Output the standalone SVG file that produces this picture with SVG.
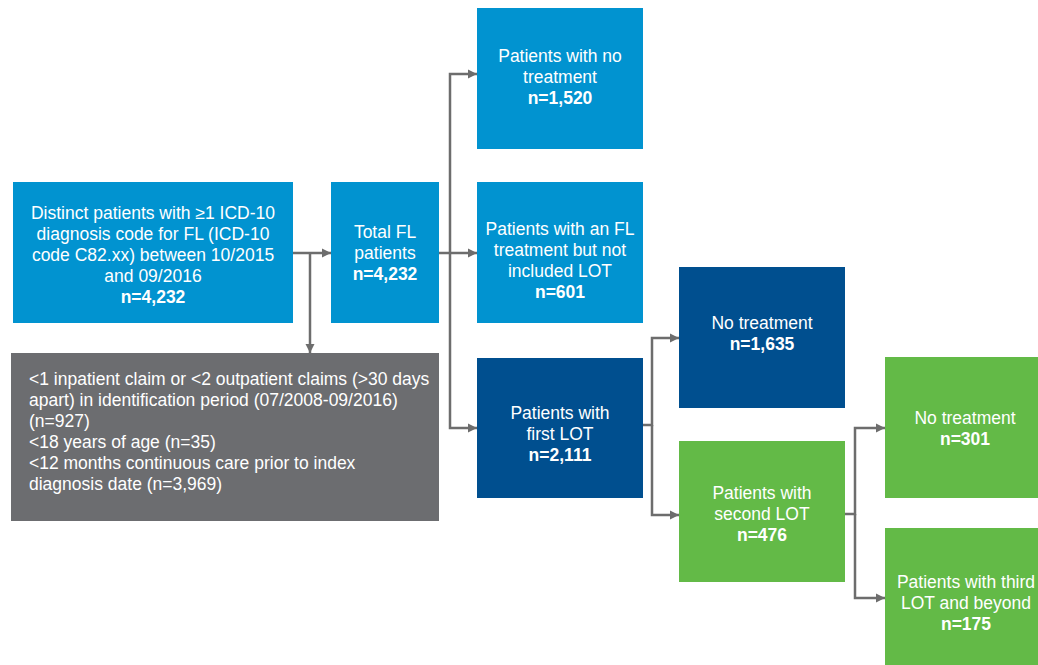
<svg xmlns="http://www.w3.org/2000/svg" width="1038" height="665" viewBox="0 0 1038 665">
<style>
.lb{fill:#0193D0}
.db{fill:#004F8F}
.gr{fill:#63BA47}
.gy{fill:#6C6D70}
text{font-family:"Liberation Sans",Arial,sans-serif;font-size:17.5px;fill:#ffffff}
.c{text-anchor:middle}
.b{font-weight:bold}
.conn path{fill:none;stroke:#6D6D6D;stroke-width:2.5;marker-end:url(#ah)}
</style>
<defs>
<marker id="ah" markerUnits="userSpaceOnUse" markerWidth="10" markerHeight="10" refX="9" refY="5" orient="auto">
<path d="M0,0.5 L9,5 L0,9.5 z" fill="#6D6D6D"/>
</marker>
</defs>
<rect width="1038" height="665" fill="#ffffff"/>
<g class="conn" id="connectors">
<path d="M293,253 H331"/>
<path d="M310,253 V353"/>
<path d="M439,253 H477"/>
<path d="M450,253 V74 H477"/>
<path d="M450,253 V428 H477"/>
<path d="M643,425 H652 V338 H679"/>
<path d="M652,425 V515 H679"/>
<path d="M845,514 H855 V428 H885"/>
<path d="M855,514 V598 H885"/>
</g>
<g id="n1">
<rect class="lb" x="13" y="182" width="280" height="141"/>
<text class="c" x="153" y="219">Distinct patients with ≥1 ICD-10</text>
<text class="c" x="153" y="240">diagnosis code for FL (ICD-10</text>
<text class="c" x="153" y="261">code C82.xx) between 10/2015</text>
<text class="c" x="153" y="282">and 09/2016</text>
<text class="c b" x="153" y="303">n=4,232</text>
</g>
<g id="n2">
<rect class="lb" x="331" y="182" width="108" height="141"/>
<text class="c" x="385" y="238">Total FL</text>
<text class="c" x="385" y="259">patients</text>
<text class="c b" x="385" y="280">n=4,232</text>
</g>
<g id="excl">
<rect class="gy" x="11" y="353" width="428" height="168"/>
<text x="29" y="385">&lt;1 inpatient claim or &lt;2 outpatient claims (&gt;30 days</text>
<text x="29" y="406">apart) in identification period (07/2008-09/2016)</text>
<text x="29" y="427">(n=927)</text>
<text x="29" y="448">&lt;18 years of age (n=35)</text>
<text x="29" y="469">&lt;12 months continuous care prior to index</text>
<text x="29" y="490">diagnosis date (n=3,969)</text>
</g>
<g id="n3">
<rect class="lb" x="477" y="8" width="166" height="141"/>
<text class="c" x="560" y="62">Patients with no</text>
<text class="c" x="560" y="83">treatment</text>
<text class="c b" x="560" y="104">n=1,520</text>
</g>
<g id="n4">
<rect class="lb" x="477" y="182" width="166" height="141"/>
<text class="c" x="560" y="235">Patients with an FL</text>
<text class="c" x="560" y="256">treatment but not</text>
<text class="c" x="560" y="277">included LOT</text>
<text class="c b" x="560" y="298">n=601</text>
</g>
<g id="n5">
<rect class="db" x="477" y="358" width="166" height="140"/>
<text class="c" x="560" y="419">Patients with</text>
<text class="c" x="560" y="440">first LOT</text>
<text class="c b" x="560" y="461">n=2,111</text>
</g>
<g id="n6">
<rect class="db" x="679" y="267" width="166" height="141"/>
<text class="c" x="762" y="329">No treatment</text>
<text class="c b" x="762" y="350">n=1,635</text>
</g>
<g id="n7">
<rect class="gr" x="679" y="441" width="166" height="141"/>
<text class="c" x="762" y="499">Patients with</text>
<text class="c" x="762" y="520">second LOT</text>
<text class="c b" x="762" y="541">n=476</text>
</g>
<g id="n8">
<rect class="gr" x="885" y="357" width="166" height="141"/>
<text class="c" x="965" y="424">No treatment</text>
<text class="c b" x="965" y="445">n=301</text>
</g>
<g id="n9">
<rect class="gr" x="885" y="528" width="166" height="141"/>
<text class="c" x="966" y="588">Patients with third</text>
<text class="c" x="966" y="609">LOT and beyond</text>
<text class="c b" x="966" y="630">n=175</text>
</g>
</svg>
